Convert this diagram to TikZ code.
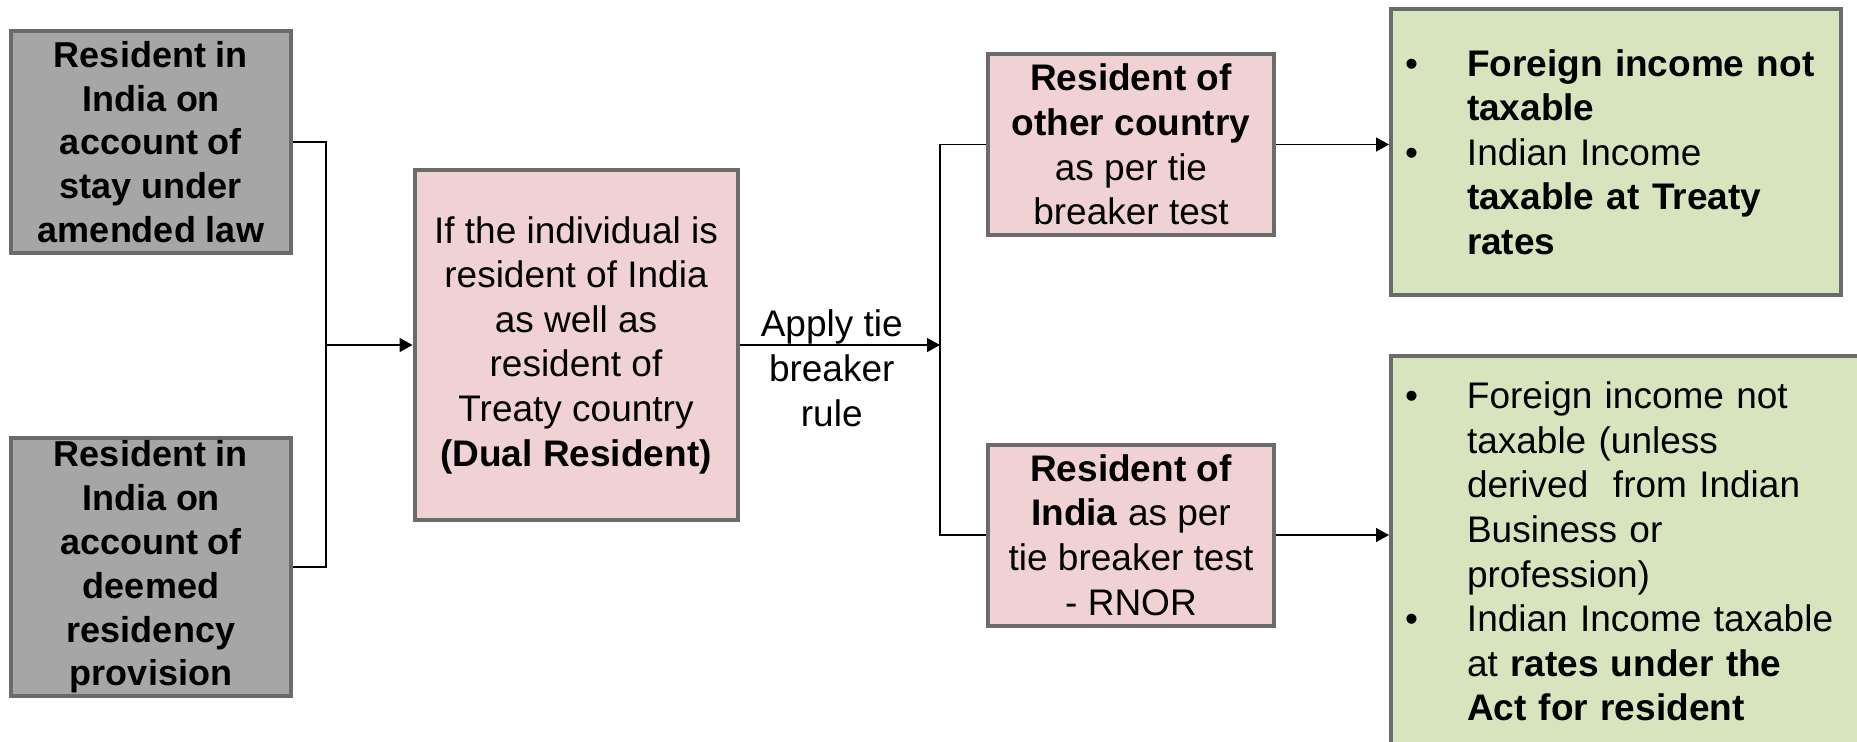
\documentclass[tikz,border=0pt]{standalone}
\usepackage{fontspec}
\setmainfont{Liberation Sans}
\usetikzlibrary{arrows.meta, positioning, calc}
\definecolor{rim}{HTML}{6B6B6B}
\definecolor{stone}{HTML}{A6A6A6}
\definecolor{blush}{HTML}{F0D2D4}
\definecolor{sage}{HTML}{D7E4BD}
\newcommand{\blt}{\makebox[31pt][l]{\textbullet}}
\newcommand{\ind}{\hspace*{31pt}}

\begin{document}
\begin{tikzpicture}[x=0.5pt, y=-0.5pt,
      box/.style={draw=rim, line width=2pt, align=center, inner sep=0pt,
        font=\fontsize{18.5}{22.3}\selectfont},
      grey/.style={box, fill=stone, minimum width=140pt, font=\fontsize{18}{21.9}\selectfont\bfseries},
      pink/.style={box, fill=blush},
      note/.style={box, fill=sage, align=left, inner xsep=7pt, anchor=west},
      line/.style={line width=0.7pt, color=black},
      arr/.style={line, -{Triangle[length=6.5pt, width=7pt]}}]
    \clip (0,0) rectangle (1857,741);
    \fill[white] (0,0) rectangle (1857,741);

    \node[grey, minimum height=111pt] (stay) at (151,142) {Resident in\\ India on\\ account of\\ stay under\\ amended law};
    \node[grey, minimum height=129pt] (deem) at (151,567) {Resident in\\ India on\\ account of\\ deemed\\ residency\\ provision};
    \node[pink, minimum width=161.5pt, minimum height=175pt] (dual) at (576,345)
      {If the individual is\\ resident of India\\ as well as\\ resident of\\ Treaty country\\ \textbf{(Dual Resident)}};
    \node[pink, minimum width=143pt, minimum height=90.5pt] (other) at (1131,144.5)
      {\textbf{Resident of}\\ \textbf{other country}\\ as per tie\\ breaker test};
    \node[pink, minimum width=143pt, minimum height=90.5pt] (india) at (1131,535)
      {\textbf{Resident of}\\ \textbf{India} as per\\ tie breaker test\\ - RNOR};
    \node[note, text width=211pt, minimum height=143pt] (treaty) at (1389,152)
      {\blt\textbf{Foreign income not}\\ \ind\textbf{taxable}\\ \blt Indian Income\\ \ind\textbf{taxable at Treaty}\\ \ind\textbf{rates}};
    \node[note, text width=226pt, minimum height=195.5pt] (act) at (1389,551.5)
      {\blt Foreign income not\\ \ind taxable (unless\\ \ind derived\ \ from Indian\\ \ind Business or\\ \ind profession)\\
       \blt Indian Income taxable\\ \ind at \textbf{rates under the}\\ \ind\textbf{Act for resident}};

    \coordinate (join) at (326,345);
    \coordinate (split) at (940,345);

    % left bracket into the dual resident box
    \draw[line] (stay.east) -| (join);
    \draw[line] (deem.east) -| (join);
    \draw[arr] (join) -- (dual.west);

    \draw[arr] (dual.east) -- node[font=\fontsize{18.5}{22.5}\selectfont, align=center,
      xshift=-4pt, yshift=-11.5pt] (rule) {Apply tie\\ breaker\\ rule} (split);

    % right bracket to the two outcomes
    \draw[line] (split) |- (other.west);
    \draw[line] (split) |- (india.west);
    \draw[arr] (other.east) -- (other.east -| treaty.west);
    \draw[arr] (india.east) -- (india.east -| act.west);
\end{tikzpicture}
\end{document}
